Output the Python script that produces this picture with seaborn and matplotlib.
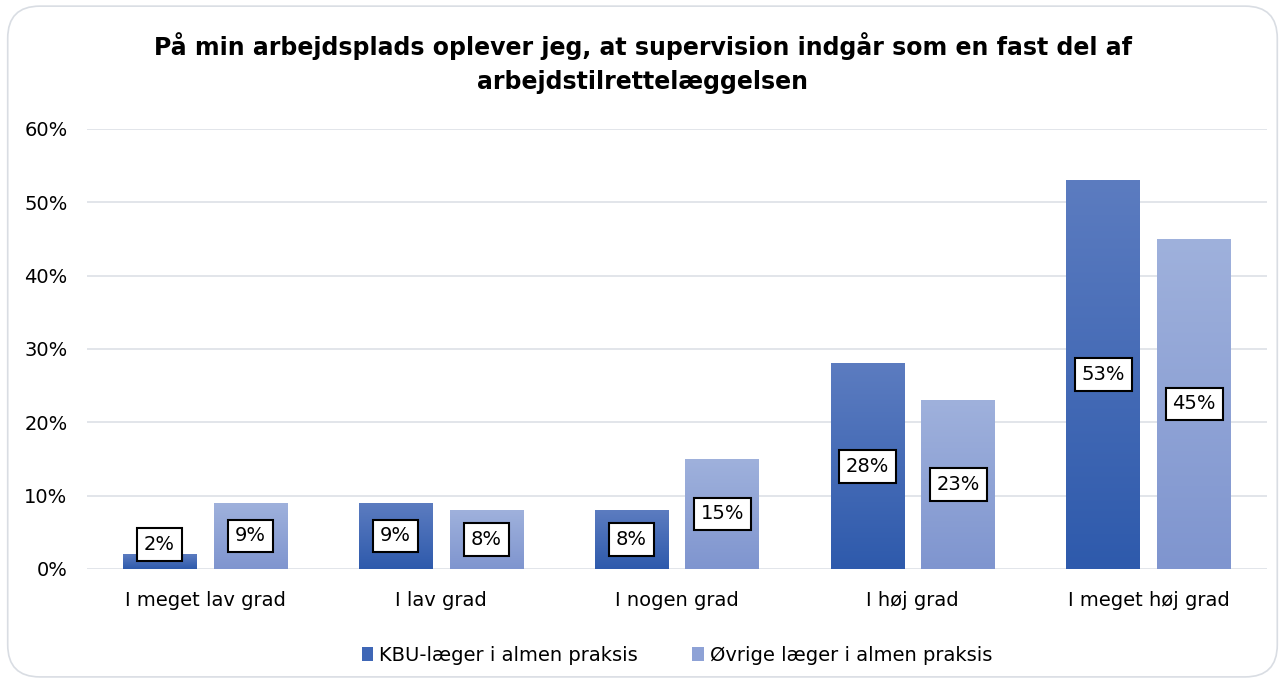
import numpy as np
import pandas as pd
import matplotlib
matplotlib.use("Agg")
import matplotlib.pyplot as plt
import seaborn as sns
from matplotlib.patches import FancyBboxPatch
from matplotlib.colors import LinearSegmentedColormap

kategorier = ["I meget lav grad", "I lav grad", "I nogen grad", "I høj grad", "I meget høj grad"]
serier = ["KBU-læger i almen praksis", "Øvrige læger i almen praksis"]
kbu = [2, 9, 8, 28, 53]
ovrige = [9, 8, 15, 23, 45]
yticks = [0, 10, 20, 30, 40, 50, 60]

df = pd.DataFrame({
    "kategori": kategorier * 2,
    "serie": [serier[0]] * 5 + [serier[1]] * 5,
    "andel": kbu + ovrige,
})

sns.set_theme(style="white")
plt.rcParams["font.family"] = ["DejaVu Sans"]
plt.rcParams["text.color"] = "black"
plt.rcParams["xtick.color"] = "black"
plt.rcParams["ytick.color"] = "black"

farver = {serier[0]: "#3f67b6", serier[1]: "#8ea2d6"}
gradient = {
    serier[0]: ("#2e5aac", "#5c7cc0"),   # bund, top
    serier[1]: ("#7f95cf", "#9fb1dc"),
}

fig = plt.figure(figsize=(12.85, 6.81), dpi=100, facecolor="white")
ramme = FancyBboxPatch((0.006, 0.006), 0.988, 0.985, boxstyle="round,pad=0,rounding_size=0.025",
                       transform=fig.transFigure, fc="none", ec="#d9dde3", lw=1.2,
                       mutation_aspect=1285 / 681, zorder=-1)
fig.patches.append(ramme)

ax = fig.add_axes([0.0677, 0.1645, 0.918, 0.6461])
ax.patch.set_alpha(0)
sns.barplot(data=df, x="kategori", y="andel", hue="serie", order=kategorier,
            hue_order=serier, palette=farver, width=0.77, gap=0.19, ax=ax, legend=True)

ax.set_ylim(0, 60)
ax.set_xlim(-0.5, 4.5)
ax.set_yticks(yticks)
ax.set_yticklabels([f"{t}%" for t in yticks], fontsize=14)
ax.tick_params(axis="x", labelsize=14, length=0, pad=16)
ax.tick_params(axis="y", length=0, pad=14)
ax.yaxis.grid(True, color="#dfe3e8", lw=1.3)
ax.set_axisbelow(True)
for s in ax.spines.values():
    s.set_visible(False)
ax.set_xlabel("")
ax.set_ylabel("")

# gradient på søjlerne + etiketter
for container, serie in zip(ax.containers, serier):
    cmap = LinearSegmentedColormap.from_list(serie, gradient[serie])
    for bar in container:
        x0, w, h = bar.get_x(), bar.get_width(), bar.get_height()
        bar.set_facecolor("none")
        bar.set_edgecolor("none")
        ax.imshow(np.linspace(0, 1, 256).reshape(-1, 1), cmap=cmap, origin="lower",
                  extent=[x0, x0 + w, 0, h], aspect="auto", zorder=2)
        ypos = max(h / 2, 3.3)
        ax.text(x0 + w / 2, ypos, f"{h:.0f}%", ha="center", va="center", fontsize=14,
                color="black", zorder=4,
                bbox=dict(boxstyle="square,pad=0.35", fc="white", ec="black", lw=1.5))
ax.set_xlim(-0.5, 4.5)
ax.set_ylim(0, 60)

handles = [plt.Rectangle((0, 0), 1, 1, fc=farver[s], ec="none") for s in serier]
ax.legend(handles, serier, loc="upper center", bbox_to_anchor=(0.5, -0.135), ncol=2,
          frameon=False, fontsize=14, handlelength=0.6, handleheight=0.7,
          handletextpad=0.3, columnspacing=2.8)

fig.text(0.5, 0.907, "På min arbejdsplads oplever jeg, at supervision indgår som en fast del af\narbejdstilrettelæggelsen",
         ha="center", va="center", fontsize=17, fontweight="bold", linespacing=1.55, color="black")

fig.savefig("out.png", dpi=100)
